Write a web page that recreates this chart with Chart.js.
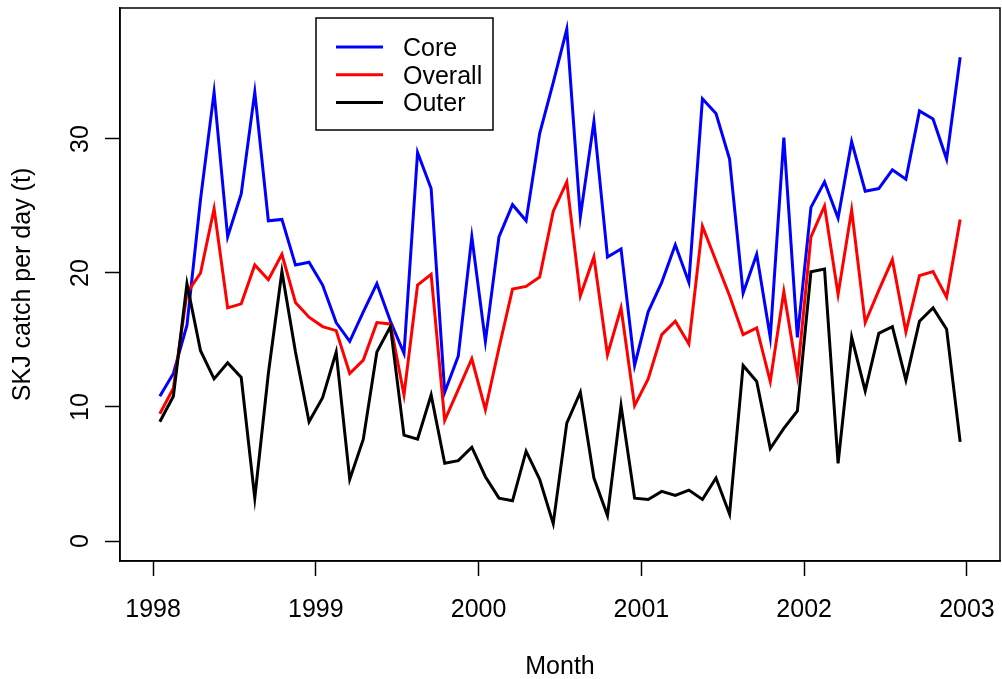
<!DOCTYPE html>
<html>
<head>
<meta charset="utf-8">
<script src="https://cdn.jsdelivr.net/npm/chart.js@4.4.1/dist/chart.umd.min.js"></script>
<style>
  html, body { margin: 0; padding: 0; background: #fff; }
  #chart { display: block; }
</style>
</head>
<body>
<canvas id="chart" width="1002" height="679"></canvas>
<script>
// monthly SKJ catch per day, Jan 1998 - Dec 2002
const years = [1998, 1999, 2000, 2001, 2002];
const xTicks = [1998, 1999, 2000, 2001, 2002, 2003];
const yTicks = [0, 10, 20, 30];

const core = [
  10.8, 12.5, 16.1, 25.5, 33.5, 22.7, 25.9, 33.5, 23.9, 24.0, 20.6, 20.8,
  19.1, 16.3, 14.9, 17.1, 19.2, 16.4, 14.0, 29.0, 26.3, 11.1, 13.8, 22.7,
  14.9, 22.7, 25.1, 23.9, 30.4, 34.2, 38.2, 24.2, 31.3, 21.2, 21.8, 13.1,
  17.1, 19.3, 22.1, 19.3, 33.0, 31.9, 28.5, 18.5, 21.4, 15.2, 30.1, 15.2,
  24.9, 26.8, 24.1, 29.8, 26.1, 26.3, 27.7, 27.0, 32.1, 31.5, 28.5, 36.1
];
const overall = [
  9.5, 11.4, 18.5, 20.0, 24.8, 17.4, 17.7, 20.6, 19.5, 21.4, 17.8, 16.7,
  16.0, 15.7, 12.5, 13.5, 16.3, 16.2, 10.9, 19.1, 19.9, 9.0, 11.3, 13.6,
  9.8, 14.4, 18.8, 19.0, 19.7, 24.6, 26.8, 18.3, 21.2, 13.9, 17.4, 10.1,
  12.1, 15.4, 16.4, 14.7, 23.5, 20.9, 18.3, 15.4, 15.9, 11.9, 18.6, 12.4,
  22.7, 25.0, 18.4, 24.7, 16.3, 18.7, 21.0, 15.6, 19.8, 20.1, 18.2, 24.0
];
const outer = [
  8.9, 10.8, 19.2, 14.2, 12.1, 13.3, 12.2, 3.2, 12.5, 20.1, 14.1, 8.9,
  10.7, 14.1, 4.6, 7.6, 14.1, 16.0, 7.9, 7.6, 10.9, 5.8, 6.0, 7.0,
  4.8, 3.2, 3.0, 6.7, 4.6, 1.3, 8.8, 11.1, 4.7, 1.9, 10.1, 3.2,
  3.1, 3.7, 3.4, 3.8, 3.1, 4.7, 2.0, 13.1, 11.9, 6.9, 8.4, 9.7,
  20.1, 20.3, 5.8, 15.2, 11.2, 15.5, 16.0, 12.0, 16.4, 17.4, 15.8, 7.4
];

// mid-month position as decimal year
const monthTimes = [];
years.forEach(y => {
  for (let m = 0; m < 12; m++) monthTimes.push(y + (m + 0.5) / 12);
});
const toPoints = arr => arr.map((v, i) => ({ x: monthTimes[i], y: v }));

const FAMILY = "'Liberation Sans', Arial, sans-serif";
const FONT_SIZE = 25;

// box around plot, rotated y labels (R style) and the legend
const rFrame = {
  id: 'rFrame',
  afterDraw(chart) {
    const { ctx, chartArea: a, scales } = chart;
    ctx.save();
    ctx.strokeStyle = '#000';
    ctx.lineWidth = 1.5;
    ctx.strokeRect(a.left, a.top, a.right - a.left, a.bottom - a.top);

    ctx.fillStyle = '#000';
    ctx.font = FONT_SIZE + 'px ' + FAMILY;
    ctx.textAlign = 'center';
    ctx.textBaseline = 'middle';
    yTicks.forEach(v => {
      const py = scales.y.getPixelForValue(v);
      ctx.save();
      ctx.translate(81, py);
      ctx.rotate(-Math.PI / 2);
      ctx.fillText(String(v), 0, 0);
      ctx.restore();
    });

    // legend
    ctx.fillStyle = '#fff';
    ctx.fillRect(316, 18, 177, 112);
    ctx.strokeRect(316, 18, 177, 112);
    ctx.textAlign = 'left';
    chart.data.datasets.forEach((ds, i) => {
      const ly = 47 + i * 27.7;
      ctx.strokeStyle = ds.borderColor;
      ctx.lineWidth = 3;
      ctx.beginPath();
      ctx.moveTo(336, ly);
      ctx.lineTo(383, ly);
      ctx.stroke();
      ctx.fillStyle = '#000';
      ctx.fillText(ds.label, 403, ly + 2);
    });
    ctx.restore();
  }
};

const axisGrid = {
  drawOnChartArea: false,
  drawTicks: true,
  tickLength: 15,
  tickColor: '#000',
  tickWidth: 1.5
};

new Chart(document.getElementById('chart'), {
  type: 'line',
  data: {
    datasets: [
      { label: 'Core', data: toPoints(core), borderColor: '#0000ff', order: 3 },
      { label: 'Overall', data: toPoints(overall), borderColor: '#ff0000', order: 2 },
      { label: 'Outer', data: toPoints(outer), borderColor: '#000000', order: 1 }
    ]
  },
  options: {
    responsive: false,
    animation: false,
    devicePixelRatio: 1,
    datasets: {
      line: { borderWidth: 3, pointRadius: 0, tension: 0, fill: false }
    },
    layout: { padding: { left: 0, right: 2, top: 8, bottom: 0 } },
    plugins: { legend: { display: false }, tooltip: { enabled: false } },
    scales: {
      x: {
        type: 'linear',
        min: 1997.797,
        max: 2003.203,
        afterBuildTicks: s => { s.ticks = xTicks.map(v => ({ value: v })); },
        afterFit: s => { s.height = 118; s.paddingLeft = 0; s.paddingRight = 0; },
        grid: axisGrid,
        border: { display: true, color: '#000', width: 1.5 },
        ticks: {
          color: '#000',
          font: { family: FAMILY, size: FONT_SIZE },
          padding: 19,
          maxRotation: 0,
          autoSkip: false,
          callback: v => String(v)
        },
        title: {
          display: true,
          text: 'Month',
          color: '#000',
          font: { family: FAMILY, size: FONT_SIZE },
          padding: { top: 0, bottom: -3 }
        }
      },
      y: {
        min: -1.4925,
        max: 39.776,
        afterBuildTicks: s => { s.ticks = yTicks.map(v => ({ value: v })); },
        afterFit: s => { s.width = 120; s.paddingTop = 0; s.paddingBottom = 0; },
        grid: axisGrid,
        border: { display: true, color: '#000', width: 1.5 },
        ticks: { display: false },
        title: {
          display: true,
          text: 'SKJ catch per day (t)',
          color: '#000',
          font: { family: FAMILY, size: FONT_SIZE },
          padding: { top: 8, bottom: 0 }
        }
      }
    }
  },
  plugins: [rFrame]
});
</script>
</body>
</html>
